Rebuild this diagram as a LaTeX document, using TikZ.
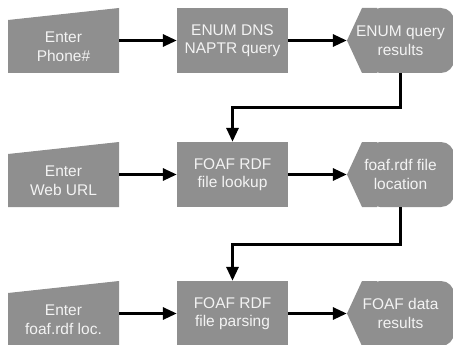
\documentclass[tikz,border=0pt]{standalone}
\usepackage{fontspec}
\setmainfont{Liberation Sans}
\usetikzlibrary{arrows.meta}

\definecolor{boxgray}{RGB}{143,143,143}
\definecolor{boxtext}{RGB}{243,243,243}

\tikzset{
  base/.style={inner sep=0pt, align=center, text=boxtext,
    font=\fontsize{15.5}{18.5}\selectfont},
  procbox/.style={base, fill=boxgray, minimum width=111pt, minimum height=65pt},
  inbox/.style={base, minimum width=111pt, minimum height=77pt,
    path picture={\fill[boxgray] (path picture bounding box.north east)
      -- ([yshift=-12pt]path picture bounding box.north west)
      -- ([yshift=12pt]path picture bounding box.south west)
      -- ([yshift=12pt]path picture bounding box.south east) -- cycle;}},
  dispbox/.style={base, minimum width=107pt, minimum height=65pt,
    path picture={
      \fill[boxgray] (path picture bounding box.west)
        -- ([xshift=15pt]path picture bounding box.north west)
        -- ([xshift=30pt]path picture bounding box.north west)
        -- ([xshift=30pt]path picture bounding box.south west)
        -- ([xshift=15pt]path picture bounding box.south west) -- cycle;
      \fill[boxgray, rounded corners=13pt]
        ([xshift=20pt]path picture bounding box.south west)
        rectangle (path picture bounding box.north east);}},
  flow/.style={line width=3pt, -{Triangle[length=14pt,width=12pt]}}
}

\begin{document}
\begin{tikzpicture}[x=1pt,y=-1pt]
\useasboundingbox (0,0) rectangle (453,345);

% Row 1: phone number
\node[inbox] (in1) at (63.5,46.5) {Enter\\Phone\#};
\node[procbox] (p1) at (232.5,40.5) {ENUM DNS\\NAPTR query};
\node[dispbox] (d1) at (400.5,40.5) {ENUM query\\results};

% Row 2: web URL
\node[inbox] (in2) at (63.5,180.5) {Enter\\Web URL};
\node[procbox] (p2) at (232.5,174.5) {FOAF RDF\\file lookup};
\node[dispbox] (d2) at (400.5,174.5) {foaf.rdf file\\location};

% Row 3: foaf.rdf location
\node[inbox] (in3) at (63.5,319.5) {Enter\\foaf.rdf loc.};
\node[procbox] (p3) at (232.5,313.5) {FOAF RDF\\file parsing};
\node[dispbox] (d3) at (400.5,313.5) {FOAF data\\results};

% Flow arrows
\draw[flow] (in1.east |- p1.west) -- (p1.west);
\draw[flow] (p1.east) -- (d1.west);
\draw[flow] (in2.east |- p2.west) -- (p2.west);
\draw[flow] (p2.east) -- (d2.west);
\draw[flow] (in3.east |- p3.west) -- (p3.west);
\draw[flow] (p3.east) -- (d3.west);

% Links between rows
\draw[flow] (d1.south) -- ++(0,34.5) -| (p2.north);
\draw[flow] (d2.south) -- ++(0,37) -| (p3.north);

\end{tikzpicture}
\end{document}
